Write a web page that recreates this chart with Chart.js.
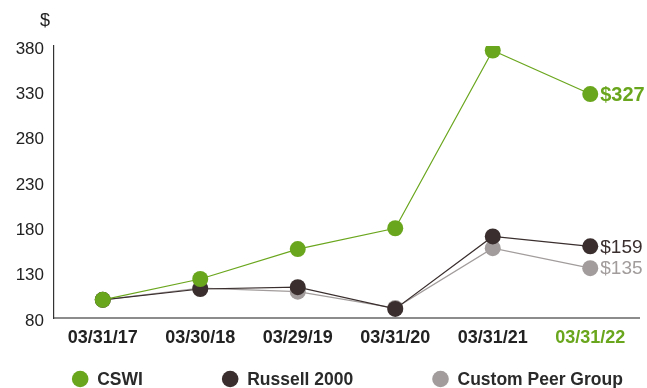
<!DOCTYPE html>
<html>
<head>
<meta charset="utf-8">
<script src="https://cdn.jsdelivr.net/npm/chart.js@4"></script>
<style>
  html, body { margin: 0; padding: 0; background: #fff; }
  #wrap { width: 647px; height: 388px; position: relative; }
</style>
</head>
<body>
<div id="wrap"><canvas id="chart"></canvas></div>
<script>
const FONT = '"Liberation Sans", Arial, Helvetica, sans-serif';

const dates = ['03/31/17', '03/30/18', '03/29/19', '03/31/20', '03/31/21', '03/31/22'];
const seriesNames = ['CSWI', 'Russell 2000', 'Custom Peer Group'];
const cswi = [100, 123, 156, 179, 375, 327];
const russell = [100, 112, 114, 90, 170, 159];
const peer = [100, 113, 109, 91, 157, 135];
const yTicks = [80, 130, 180, 230, 280, 330, 380];

const GREEN = '#6aa61d';
const DARK = '#3a2e2e';
const GRAY = '#a29c9c';
const seriesColors = [GREEN, DARK, GRAY];

// end-of-line value labels ($327 etc)
const endLabelFonts = ['bold 20px ' + FONT, '19px ' + FONT, '19px ' + FONT];

function makeSet(i, data) {
  return {
    label: seriesNames[i],
    data: data,
    borderColor: seriesColors[i],
    backgroundColor: seriesColors[i],
    pointBackgroundColor: seriesColors[i],
    pointBorderColor: seriesColors[i],
    borderWidth: 1.2,
    pointRadius: 8,
    pointBorderWidth: 0,
    tension: 0
  };
}

const extras = {
  id: 'extras',
  afterDatasetsDraw(chart) {
    const ctx = chart.ctx;
    const area = chart.chartArea;
    ctx.save();

    // "$" unit label above the y axis
    ctx.fillStyle = '#222';
    ctx.font = '18px ' + FONT;
    ctx.textAlign = 'center';
    ctx.textBaseline = 'middle';
    ctx.fillText('$', 45, 21);

    // value labels at the last point of each series
    ctx.textAlign = 'left';
    chart.data.datasets.forEach((ds, i) => {
      const meta = chart.getDatasetMeta(i);
      const pt = meta.data[meta.data.length - 1];
      const v = ds.data[ds.data.length - 1];
      ctx.font = endLabelFonts[i];
      ctx.fillStyle = seriesColors[i];
      ctx.fillText('$' + v, pt.x + 10, pt.y + 1);
    });

    // legend row
    ctx.font = 'bold 17.5px ' + FONT;
    const r = 8.3, textGap = 17, itemGap = 79;
    const widths = seriesNames.map(n => ctx.measureText(n).width);
    let total = 0;
    widths.forEach((w, i) => { total += r + textGap + w + (i < widths.length - 1 ? itemGap : 0); });
    total += r;
    let x = (area.left + area.right) / 2 - total / 2 + 5;
    const ly = 379;
    seriesNames.forEach((n, i) => {
      const cx = x + r;
      ctx.beginPath();
      ctx.arc(cx, ly, r, 0, Math.PI * 2);
      ctx.fillStyle = seriesColors[i];
      ctx.fill();
      ctx.fillStyle = '#2a2a2a';
      ctx.fillText(n, cx + textGap, ly + 1);
      x = cx + textGap + widths[i] + itemGap;
    });
    ctx.restore();
  }
};

new Chart(document.getElementById('chart'), {
  type: 'line',
  data: {
    labels: dates,
    datasets: [makeSet(0, cswi), makeSet(1, russell), makeSet(2, peer)]
  },
  options: {
    responsive: true,
    maintainAspectRatio: false,
    animation: false,
    layout: { padding: { top: 46, right: 7, bottom: 40, left: 0 } },
    plugins: {
      legend: { display: false },
      tooltip: { enabled: false }
    },
    scales: {
      x: {
        offset: true,
        grid: { display: false, drawTicks: false },
        border: { display: true, color: '#8c8c8c', width: 2 },
        ticks: {
          padding: 9,
          color: (c) => c.index === dates.length - 1 ? GREEN : '#222',
          font: { family: FONT, size: 18, weight: 'bold' },
          maxRotation: 0,
          autoSkip: false
        },
        afterFit(scale) { scale.height = 30; }
      },
      y: {
        min: 80,
        max: 380,
        grid: { display: false, drawTicks: false },
        border: { display: true, color: '#333', width: 1.2 },
        afterBuildTicks(scale) { scale.ticks = yTicks.map(v => ({ value: v })); },
        ticks: {
          padding: 10,
          labelOffset: 3,
          color: '#222',
          font: { family: FONT, size: 17 }
        },
        afterFit(scale) { scale.width = 54; }
      }
    }
  },
  plugins: [extras]
});
</script>
</body>
</html>
